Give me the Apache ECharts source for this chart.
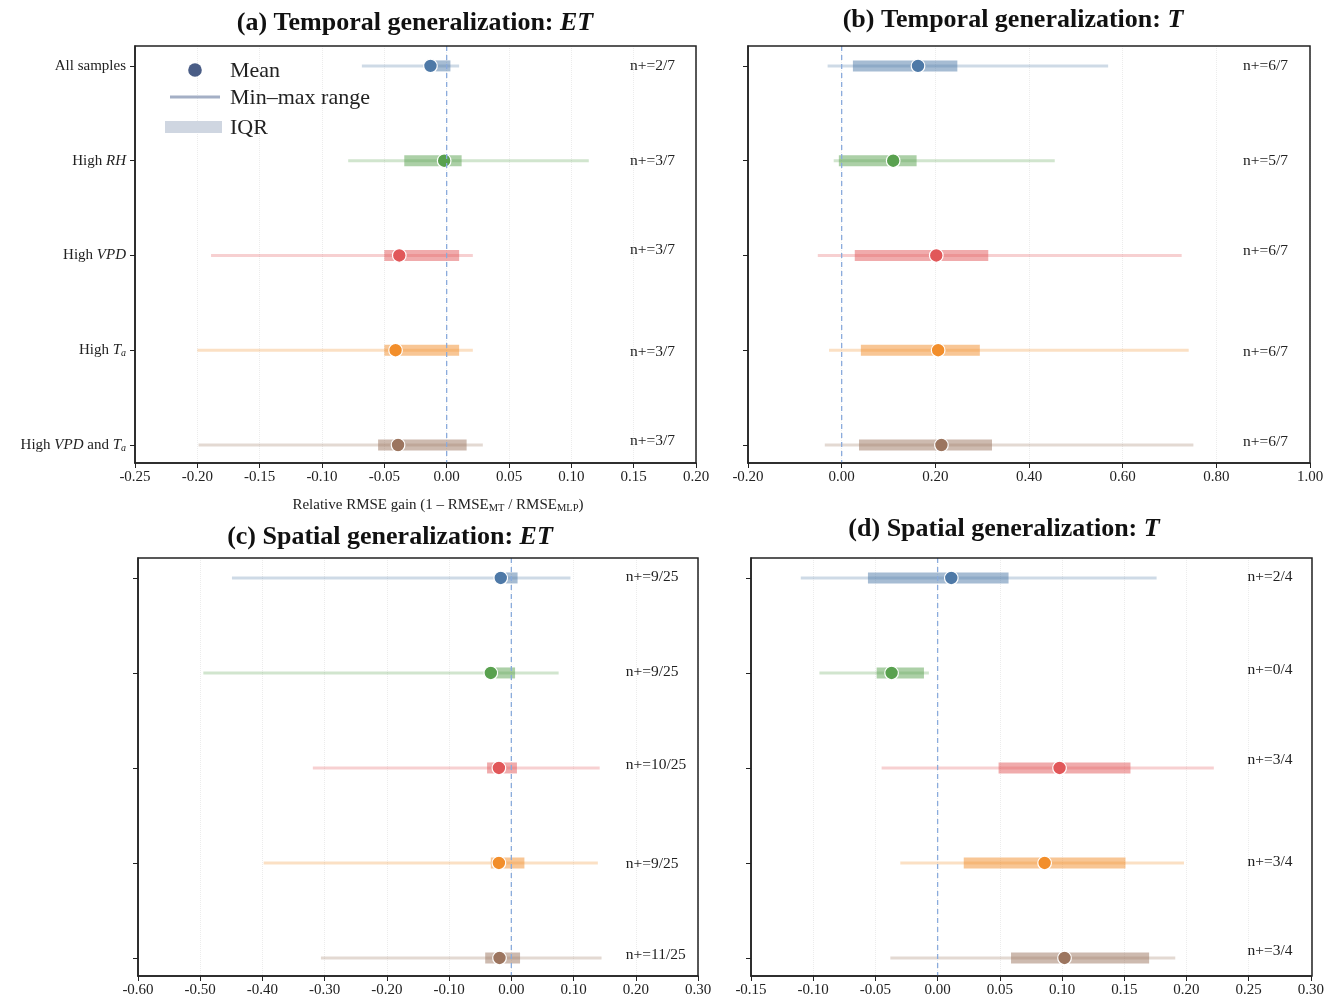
<!DOCTYPE html>
<html>
<head>
<meta charset="utf-8">
<script src="https://cdn.jsdelivr.net/npm/echarts@6/dist/echarts.min.js"></script>
<style>
	html, body { margin: 0; padding: 0; background: #fff; }
	#chart { width: 1327px; height: 1002px; }
</style>
</head>
<body>
<div id="chart"></div>
<script>
	// row names (rich markup for italics / subscripts)
	var categories = ['All samples', 'High {i|RH}', 'High {i|VPD}', 'High {i|T}{s|a}', 'High {i|VPD} and {i|T}{s|a}'];
	var rowColors = ['#4e79a7', '#59a14f', '#e15759', '#f28e2b', '#9c755f'];

	// each row: [min, q1, mean, q3, max]
	var tempET = [
		[-0.068, -0.009, -0.013, 0.003, 0.010],
		[-0.079, -0.034, -0.002, 0.012, 0.114],
		[-0.189, -0.050, -0.038, 0.010, 0.021],
		[-0.200, -0.050, -0.041, 0.010, 0.021],
		[-0.199, -0.055, -0.039, 0.016, 0.029]
	];
	var tempETPos = [2, 3, 3, 3, 3];
	var tempETTotal = 7;

	var tempT = [
		[-0.030, 0.024, 0.163, 0.247, 0.569],
		[-0.017, -0.006, 0.110, 0.160, 0.455],
		[-0.051, 0.028, 0.202, 0.313, 0.726],
		[-0.027, 0.041, 0.206, 0.295, 0.741],
		[-0.036, 0.037, 0.213, 0.321, 0.751]
	];
	var tempTPos = [6, 5, 6, 6, 6];
	var tempTTotal = 7;

	var spatET = [
		[-0.449, -0.009, -0.017, 0.010, 0.095],
		[-0.495, -0.025, -0.033, 0.006, 0.076],
		[-0.319, -0.039, -0.020, 0.009, 0.142],
		[-0.398, -0.033, -0.020, 0.021, 0.139],
		[-0.306, -0.042, -0.019, 0.014, 0.145]
	];
	var spatETPos = [9, 9, 10, 9, 11];
	var spatETTotal = 25;

	var spatT = [
		[-0.110, -0.056, 0.011, 0.057, 0.176],
		[-0.095, -0.049, -0.037, -0.011, -0.007],
		[-0.045, 0.049, 0.098, 0.155, 0.222],
		[-0.030, 0.021, 0.086, 0.151, 0.198],
		[-0.038, 0.059, 0.102, 0.170, 0.191]
	];
	var spatTPos = [2, 0, 3, 3, 3];
	var spatTTotal = 4;

	var serif = "'Liberation Serif', 'Times New Roman', serif";
	var ink = '#222';
	var yRange = [-0.21, 4.19];

	var panels = [
		{ stats: tempET, pos: tempETPos, total: tempETTotal, title: '(a) Temporal generalization: {i|ET}',
		  grid: { left: 135, top: 46, width: 561, height: 417 }, x: [-0.25, 0.20, 0.05],
		  titleX: 415, titleY: 22, labelX: 0.147, shift: [0, 0, -6, 2, -4], cats: true },
		{ stats: tempT, pos: tempTPos, total: tempTTotal, title: '(b) Temporal generalization: {i|T}',
		  grid: { left: 748, top: 46, width: 562, height: 417 }, x: [-0.2, 1.0, 0.2],
		  titleX: 1013, titleY: 19, labelX: 0.857, shift: [0, 0, -5, 2, -3], cats: false },
		{ stats: spatET, pos: spatETPos, total: spatETTotal, title: '(c) Spatial generalization: {i|ET}',
		  grid: { left: 138, top: 558, width: 560, height: 418 }, x: [-0.6, 0.3, 0.1],
		  titleX: 390, titleY: 536, labelX: 0.184, shift: [-1, -1, -3, 1, -3], cats: false },
		{ stats: spatT, pos: spatTPos, total: spatTTotal, title: '(d) Spatial generalization: {i|T}',
		  grid: { left: 751, top: 558, width: 561, height: 418 }, x: [-0.15, 0.30, 0.05],
		  titleX: 1004, titleY: 528, labelX: 0.249, shift: [-1, -3, -8, -1, -7], cats: false }
	];

	var fmt = function(v) {
		if (Math.abs(v) < 1e-9) v = 0;
		return v.toFixed(2);
	};

	var rowRender = function(params, api) {
		var row = api.value(0);
		var c = rowColors[row];
		var pMin = api.coord([api.value(1), row]);
		var pQ1 = api.coord([api.value(2), row]);
		var pMean = api.coord([api.value(3), row]);
		var pQ3 = api.coord([api.value(4), row]);
		var pMax = api.coord([api.value(5), row]);
		return {
			type: 'group',
			children: [
				{ type: 'line', shape: { x1: pMin[0], y1: pMin[1], x2: pMax[0], y2: pMax[1] },
				  style: { stroke: c, lineWidth: 3, opacity: 0.28 } },
				{ type: 'rect', shape: { x: pQ1[0], y: pQ1[1] - 5.5, width: pQ3[0] - pQ1[0], height: 11 },
				  style: { fill: c, opacity: 0.5 } },
				{ type: 'circle', shape: { cx: pMean[0], cy: pMean[1], r: 6.8 },
				  style: { fill: c, stroke: '#fff', lineWidth: 1.2 } }
			]
		};
	};

	// dashed reference line at x = 0
	var zeroRender = function(params, api) {
		var a = api.coord([api.value(0), yRange[0]]);
		var b = api.coord([api.value(0), yRange[1]]);
		return {
			type: 'line', z2: 10,
			shape: { x1: a[0], y1: a[1], x2: b[0], y2: b[1] },
			style: { stroke: '#8aabdc', lineWidth: 1.3, lineDash: [5, 4] }
		};
	};

	var grids = [], xAxes = [], yAxes = [], series = [], graphics = [];

	panels.forEach(function(p, k) {
		grids.push({ left: p.grid.left, top: p.grid.top, width: p.grid.width, height: p.grid.height });

		xAxes.push({
			type: 'value', gridIndex: k, min: p.x[0], max: p.x[1], interval: p.x[2],
			axisLine: { show: true, onZero: false, lineStyle: { color: ink, width: 1.5 } },
			axisTick: { show: true, length: 5, lineStyle: { color: ink } },
			axisLabel: { formatter: fmt, fontFamily: serif, fontSize: 15, color: ink, margin: 7 },
			splitLine: { show: true, lineStyle: { color: '#ececec', type: 'dotted', width: 1 } }
		});

		yAxes.push({
			type: 'value', gridIndex: k, min: yRange[0], max: yRange[1], inverse: true,
			axisLine: { show: true, onZero: false, lineStyle: { color: ink, width: 1.5 } },
			axisTick: { show: true, length: 5, customValues: [0, 1, 2, 3, 4], lineStyle: { color: ink } },
			axisLabel: {
				show: p.cats, customValues: [0, 1, 2, 3, 4], margin: 9,
				formatter: function(v) { return categories[Math.round(v)]; },
				fontFamily: serif, fontSize: 15, color: ink,
				rich: {
					i: { fontFamily: serif, fontSize: 15, fontStyle: 'italic', color: ink },
					s: { fontFamily: serif, fontSize: 10, fontStyle: 'italic', color: ink, verticalAlign: 'bottom', padding: [7, 0, 0, 0] }
				}
			},
			splitLine: { show: false }
		});

		series.push({
			type: 'custom', xAxisIndex: k, yAxisIndex: k,
			data: p.stats.map(function(s, i) { return [i].concat(s); }),
			encode: { x: [1, 2, 3, 4, 5], y: 0 },
			renderItem: rowRender
		});

		series.push({
			type: 'custom', xAxisIndex: k, yAxisIndex: k, z: 3, silent: true,
			data: [[0]],
			encode: { x: 0 },
			renderItem: zeroRender
		});

		series.push({
			type: 'custom', xAxisIndex: k, yAxisIndex: k,
			data: p.pos.map(function(n, i) { return [i, n]; }),
			encode: { y: 0 },
			renderItem: function(params, api) {
				var row = api.value(0);
				var pt = api.coord([p.labelX, row]);
				return {
					type: 'text',
					style: { text: 'n+=' + api.value(1) + '/' + p.total, x: pt[0], y: pt[1] + p.shift[row],
						fontFamily: serif, fontSize: 15.5, fill: ink, align: 'left', verticalAlign: 'middle' }
				};
			}
		});

		// panel frame drawn over the grid lines
		graphics.push({
			type: 'rect', z: 100, silent: true,
			shape: { x: p.grid.left, y: p.grid.top, width: p.grid.width, height: p.grid.height },
			style: { fill: 'none', stroke: ink, lineWidth: 1.5 }
		});

		graphics.push({
			type: 'text', x: p.titleX, y: p.titleY + 1,
			style: {
				text: p.title, align: 'center', verticalAlign: 'middle',
				fontFamily: serif, fontSize: 26, fontWeight: 'bold', fill: '#111',
				rich: { i: { fontFamily: serif, fontSize: 26, fontWeight: 'bold', fontStyle: 'italic', fill: '#111' } }
			}
		});
	});

	// x-axis title under panel (a)
	graphics.push({
		type: 'text', x: 438, y: 505,
		style: {
			text: 'Relative RMSE gain (1 \u2013 RMSE{s|MT} / RMSE{s|MLP})', align: 'center', verticalAlign: 'middle',
			fontFamily: serif, fontSize: 15, fill: ink,
			rich: { s: { fontFamily: serif, fontSize: 10.5, fill: ink, verticalAlign: 'bottom', padding: [7, 0, 0, 0] } }
		}
	});

	// legend of panel (a)
	var legendFont = { fontFamily: serif, fontSize: 22, fill: ink, verticalAlign: 'middle', align: 'left' };
	graphics.push(
		{ type: 'circle', z: 101, shape: { cx: 195, cy: 70, r: 6.8 }, style: { fill: '#4a5d86' } },
		{ type: 'line', z: 101, shape: { x1: 170, y1: 97, x2: 220, y2: 97 }, style: { stroke: '#a4afc5', lineWidth: 3 } },
		{ type: 'rect', z: 101, shape: { x: 165, y: 121, width: 57, height: 12 }, style: { fill: '#cfd6e1' } },
		{ type: 'text', z: 101, x: 230, y: 71, style: Object.assign({ text: 'Mean' }, legendFont) },
		{ type: 'text', z: 101, x: 230, y: 98, style: Object.assign({ text: 'Min\u2013max range' }, legendFont) },
		{ type: 'text', z: 101, x: 230, y: 128, style: Object.assign({ text: 'IQR' }, legendFont) }
	);

	var chart = echarts.init(document.getElementById('chart'), null, { renderer: 'canvas' });
	chart.setOption({
		backgroundColor: '#fff',
		animation: false,
		grid: grids,
		xAxis: xAxes,
		yAxis: yAxes,
		series: series,
		graphic: graphics
	});
</script>
</body>
</html>
